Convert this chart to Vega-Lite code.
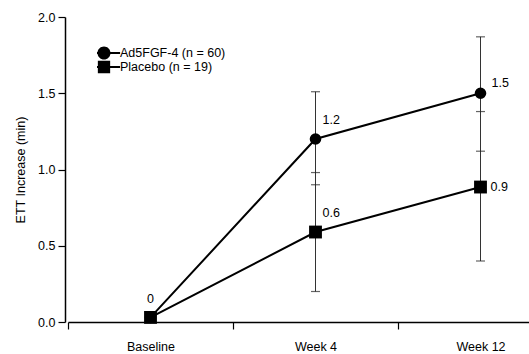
{
  "$schema": "https://vega.github.io/schema/vega-lite/v6.json",
  "autosize": "none",
  "width": 464,
  "height": 305,
  "padding": {"left": 65, "top": 17, "right": 0, "bottom": 32},
  "background": "white",
  "config": {
    "view": {"stroke": null},
    "font": "Liberation Sans",
    "axis": {"labelFont": "Liberation Sans", "titleFont": "Liberation Sans", "labelColor": "black", "titleColor": "black", "domainColor": "black", "tickColor": "black", "grid": false, "labelFontSize": 12.5, "titleFontSize": 12.5, "titleFontWeight": "normal", "domainWidth": 1.5, "tickWidth": 1.2},
    "legend": {"labelFont": "Liberation Sans", "labelFontSize": 12.5, "labelColor": "black"}
  },
  "data": {
    "values": [
      {"group": "Ad5FGF-4 (n = 60)", "time": "Baseline", "v": 0.03, "lo": null, "hi": null, "label": ""},
      {"group": "Ad5FGF-4 (n = 60)", "time": "Week 4", "v": 1.2, "lo": 0.9, "hi": 1.51, "label": "1.2"},
      {"group": "Ad5FGF-4 (n = 60)", "time": "Week 12", "v": 1.5, "lo": 1.12, "hi": 1.87, "label": "1.5"},
      {"group": "Placebo (n = 19)", "time": "Baseline", "v": 0.03, "lo": null, "hi": null, "label": "0"},
      {"group": "Placebo (n = 19)", "time": "Week 4", "v": 0.59, "lo": 0.2, "hi": 0.98, "label": "0.6"},
      {"group": "Placebo (n = 19)", "time": "Week 12", "v": 0.885, "lo": 0.4, "hi": 1.38, "label": "0.9"}
    ]
  },
  "encoding": {
    "x": {
      "field": "time", "type": "nominal",
      "sort": ["Baseline", "Week 4", "Week 12"],
      "scale": {"type": "band", "domain": ["Baseline", "Week 4", "Week 12"], "range": [3, 498], "paddingInner": 0, "paddingOuter": 0},
      "axis": {"title": null, "labelAngle": 0, "tickBand": "extent", "tickSize": 7, "labelPadding": 11, "labelFlush": false, "labelOverlap": false}
    },
    "y": {
      "field": "v", "type": "quantitative",
      "scale": {"domain": [0, 2], "nice": false},
      "axis": {"title": "ETT Increase (min)", "values": [0, 0.5, 1, 1.5, 2], "format": ".1f", "tickSize": 7, "labelPadding": 3, "titlePadding": 10}
    }
  },
  "layer": [
    {
      "transform": [{"filter": "datum.lo != null"}],
      "mark": {"type": "rule", "color": "#333", "strokeWidth": 1},
      "encoding": {"y": {"field": "lo", "type": "quantitative"}, "y2": {"field": "hi"}}
    },
    {
      "transform": [{"filter": "datum.lo != null"}],
      "mark": {"type": "tick", "orient": "horizontal", "color": "#222", "thickness": 1.2, "size": 9},
      "encoding": {"y": {"field": "lo", "type": "quantitative"}}
    },
    {
      "transform": [{"filter": "datum.lo != null"}],
      "mark": {"type": "tick", "orient": "horizontal", "color": "#222", "thickness": 1.2, "size": 9},
      "encoding": {"y": {"field": "hi", "type": "quantitative"}}
    },
    {
      "mark": {"type": "line", "color": "black", "strokeWidth": 2},
      "encoding": {"detail": {"field": "group", "type": "nominal"}}
    },
    {
      "mark": {"type": "point", "filled": true, "opacity": 0, "size": 196, "color": "black"},
      "encoding": {
        "shape": {
          "field": "group", "type": "nominal",
          "scale": {"domain": ["Ad5FGF-4 (n = 60)", "Placebo (n = 19)"], "range": ["M-2.3,-0.15H-0.8V0.15H-2.3ZM0.8,-0.15H2.3V0.15H0.8ZM-0.93,0A0.93,0.93 0 1,1 0.93,0A0.93,0.93 0 1,1 -0.93,0Z", "M-2.3,-0.15H-0.8V0.15H-2.3ZM0.8,-0.15H2.3V0.15H0.8ZM-0.88,-0.88H0.88V0.88H-0.88Z"]},
          "legend": {
            "title": null, "orient": "none", "legendX": 32, "legendY": 29,
            "symbolSize": 196, "symbolFillColor": "black", "symbolOpacity": 1, "symbolStrokeWidth": 0,
            "labelOffset": 9, "rowPadding": -1, "clipHeight": 14, "padding": 0
          }
        }
      }
    },
    {
      "transform": [{"filter": "datum.group == 'Ad5FGF-4 (n = 60)'"}],
      "mark": {"type": "point", "shape": "circle", "filled": true, "color": "black", "opacity": 1, "size": 135},
      "encoding": {}
    },
    {
      "transform": [{"filter": "datum.group == 'Placebo (n = 19)'"}],
      "mark": {"type": "point", "shape": "square", "filled": true, "color": "black", "opacity": 1, "size": 165},
      "encoding": {}
    },
    {
      "transform": [{"filter": "datum.label == '0'"}],
      "mark": {"type": "text", "fontSize": 12.5, "align": "center", "baseline": "middle", "dy": -18, "color": "black"},
      "encoding": {"text": {"field": "label"}}
    },
    {
      "transform": [{"filter": "datum.label == '1.2' || datum.label == '0.6'"}],
      "mark": {"type": "text", "fontSize": 12.5, "align": "left", "baseline": "middle", "dx": 7, "dy": -19, "color": "black"},
      "encoding": {"text": {"field": "label"}}
    },
    {
      "transform": [{"filter": "datum.label == '1.5'"}],
      "mark": {"type": "text", "fontSize": 12.5, "align": "left", "baseline": "middle", "dx": 11, "dy": -10, "color": "black"},
      "encoding": {"text": {"field": "label"}}
    },
    {
      "transform": [{"filter": "datum.label == '0.9'"}],
      "mark": {"type": "text", "fontSize": 12.5, "align": "left", "baseline": "middle", "dx": 10, "dy": 0, "color": "black"},
      "encoding": {"text": {"field": "label"}}
    },
    {
      "data": {"values": [{"note": ["Baseline ETT (min):", "Placebo 9.36 ± 0.83", "All active 8.85 ± 0.46"]}]},
      "mark": {"type": "text", "fontSize": 12.5, "align": "left", "baseline": "middle", "lineHeight": 20, "dx": -64, "color": "black"},
      "encoding": {
        "x": {"datum": "Baseline"},
        "y": {"datum": 1.26},
        "text": {"field": "note"}
      }
    }
  ]
}
